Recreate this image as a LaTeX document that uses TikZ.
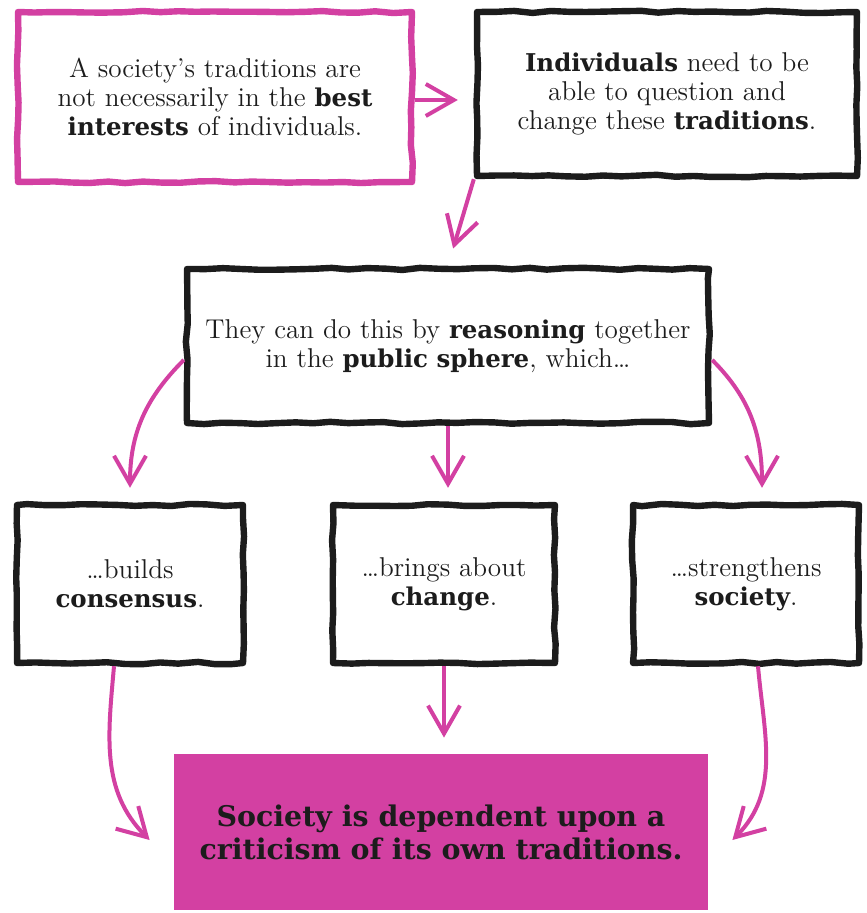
\documentclass[tikz,border=0pt]{standalone}
\usepackage{fontspec}
\newfontfamily\slabfont[Scale=0.9]{DejaVu Serif}
\usetikzlibrary{arrows.meta,positioning,calc,decorations.pathmorphing}
\definecolor{hotpink}{RGB}{211,64,162}
\definecolor{inkblack}{RGB}{28,28,28}
\newcommand{\kw}[1]{{\slabfont\bfseries #1}}

\begin{document}
\begin{tikzpicture}[x=0.5pt,y=-0.5pt,
  box/.style={draw=inkblack,line width=3.2pt,line join=round,decorate,
    decoration={random steps,segment length=9pt,amplitude=0.6pt},
    align=center,text=inkblack,font=\fontsize{13.6}{14.6}\selectfont},
  pinkbox/.style={box,draw=hotpink},
  goal/.style={fill=hotpink,align=center,text=inkblack,
    font=\slabfont\bfseries\fontsize{15.8}{16.5}\selectfont,
    minimum width=267pt,minimum height=78pt},
  arr/.style={draw=hotpink,line width=2pt,-{Straight Barb[length=14pt,width=16pt]}}
]
  \useasboundingbox (0,0) rectangle (866,913);
  % top row
  \node[pinkbox,minimum width=197pt,minimum height=85pt] (trad) at (215,97)
    {A society’s traditions are\\not necessarily in the \kw{best}\\\kw{interests} of individuals.};
  \node[box,minimum width=190pt,minimum height=82pt] (indiv) at (667,94)
    {\kw{Individuals} need to be\\able to question and\\change these \kw{traditions}.};
  % middle
  \node[box,minimum width=261pt,minimum height=77pt] (reason) at (448,346)
    {They can do this by \kw{reasoning} together\\in the \kw{public sphere}, which\ldots};
  % three results
  \node[box,minimum width=113pt,minimum height=79pt] (build) at (130,584)
    {\ldots{}builds\\\kw{consensus}.};
  \node[box,minimum width=111pt,minimum height=79pt] (change) at (444,584)
    {\ldots{}brings about\\\kw{change}.};
  \node[box,minimum width=113pt,minimum height=79pt] (strong) at (746,584)
    {\ldots{}strengthens\\\kw{society}.};
  % conclusion
  \node[goal] (goal) at (441,832)
    {Society is dependent upon a\\criticism of its own traditions.};

  \draw[arr,shorten >=8pt] ([yshift=-1.5pt]trad.east) -- ([yshift=-1.5pt]trad.east -| indiv.west);
  \draw[arr,shorten >=9pt] (indiv.south west) -- (reason.north);
  \draw[arr] ([yshift=-7pt]reason.west) to[out=225,in=90] ([yshift=7pt]build.north);
  \draw[arr,shorten >=7pt] (reason.south) -- (reason.south |- change.north);
  \draw[arr] ([yshift=-7pt]reason.east) to[out=-45,in=90] ([xshift=8pt,yshift=7pt]strong.north);
  \draw[arr] ([xshift=-8pt]build.south) to[out=-95,in=135] ([xshift=-12pt,yshift=-4pt]goal.west);
  \draw[arr,shorten >=8pt] (change.south) -- (change.south |- goal.north);
  \draw[arr] ([xshift=6pt]strong.south) to[out=-85,in=45] ([xshift=12pt,yshift=-4pt]goal.east);
\end{tikzpicture}
\end{document}
